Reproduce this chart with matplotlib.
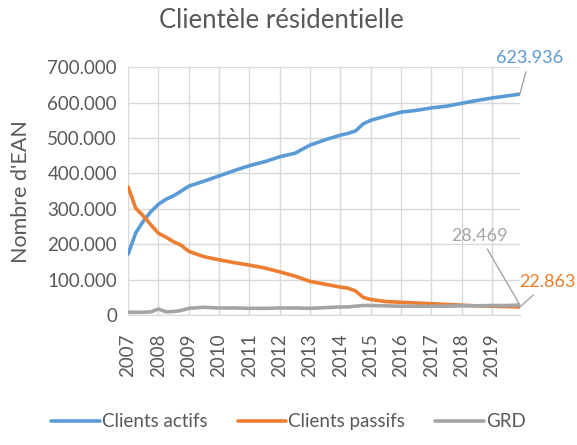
import matplotlib.pyplot as plt
from matplotlib.ticker import FuncFormatter

plt.rcParams['font.family'] = ['Lato', 'DejaVu Sans']

# decimal years of the data points
years = [2007.0, 2007.25, 2007.5, 2007.75, 2008.0, 2008.25, 2008.5, 2008.75,
         2009.0, 2009.5, 2010.0, 2010.5, 2011.0, 2011.5, 2012.0, 2012.5,
         2013.0, 2013.5, 2014.0, 2014.25, 2014.5, 2014.75, 2015.0, 2015.5,
         2016.0, 2016.5, 2017.0, 2017.5, 2018.0, 2018.5, 2019.0, 2019.5, 2019.917]

actifs = [172000, 232000, 265000, 292000, 313000, 327000, 337000, 350000,
          364000, 378000, 393000, 408000, 422000, 433000, 447000, 457000,
          480000, 495000, 508000, 513000, 520000, 540000, 550000, 562000,
          573000, 578000, 585000, 590000, 598000, 606000, 613000, 619000, 623936]

passifs = [362000, 302000, 280000, 255000, 231000, 220000, 207000, 197000,
           180000, 165000, 156000, 148000, 141000, 133000, 122000, 110000,
           95000, 87000, 79000, 76000, 68000, 50000, 44000, 38000,
           36000, 34000, 32000, 30000, 28000, 26000, 25000, 24000, 22863]

grd = [8000, 8000, 8000, 9000, 17000, 9000, 10000, 13000,
       19000, 22000, 20000, 20000, 19000, 19000, 20000, 20000,
       19000, 21000, 23000, 23000, 25000, 27000, 27000, 26000,
       25000, 25000, 25000, 25000, 26000, 26000, 27000, 27000, 28469]

tick_years = list(range(2007, 2020))

blue = '#5B9BD5'
orange = '#ED7D31'
gray = '#A5A5A5'
txt = '#595959'

fig = plt.figure(figsize=(5.77, 4.45), dpi=100)
ax = fig.add_axes([0.222, 0.292, 0.679, 0.557])

ax.plot(years, actifs, color=blue, lw=2.6, label='Clients actifs', solid_capstyle='round')
ax.plot(years, passifs, color=orange, lw=2.6, label='Clients passifs', solid_capstyle='round')
ax.plot(years, grd, color=gray, lw=2.6, label='GRD', solid_capstyle='round')

ax.set_xlim(2007, 2019.917)
ax.set_ylim(0, 700000)
ax.set_yticks(range(0, 700001, 100000))
ax.yaxis.set_major_formatter(FuncFormatter(lambda v, p: '0' if v == 0 else f'{int(v):,}'.replace(',', '.')))
ax.set_xticks(tick_years)
ax.set_xticklabels([str(y) for y in tick_years], rotation=90)

ax.grid(True, color='#D9D9D9', lw=1)
ax.set_axisbelow(True)
for s in ['top', 'right', 'left']:
    ax.spines[s].set_visible(False)
ax.spines['bottom'].set_color('#D9D9D9')
ax.tick_params(length=0, colors=txt, labelsize=13.5)
ax.tick_params(axis='x', pad=13)
ax.tick_params(axis='y', pad=8)

ax.set_ylabel("Nombre d'EAN", color=txt, fontsize=15.5, labelpad=12)
fig.text(0.488, 0.955, 'Clientèle résidentielle', color=txt, fontsize=18.5, ha='center', va='center')

# end labels
lbl = dict(fontsize=13, annotation_clip=False, ha='center', va='bottom')
ax.annotate('623.936', xy=(years[-1], actifs[-1]), xytext=(7, 20), textcoords='offset points',
            color=blue, arrowprops=dict(arrowstyle='-', color=gray, lw=1, shrinkA=2, shrinkB=0), **lbl)
ax.annotate('28.469', xy=(years[-1], grd[-1]), xytext=(-29, 44), textcoords='offset points',
            color=gray, arrowprops=dict(arrowstyle='-', color=gray, lw=1, shrinkA=2, shrinkB=0), **lbl)
ax.annotate('22.863', xy=(years[-1], passifs[-1]), xytext=(20, 12), textcoords='offset points',
            color=orange, arrowprops=dict(arrowstyle='-', color=gray, lw=1, shrinkA=2, shrinkB=0), **lbl)

fig.legend(loc='lower center', bbox_to_anchor=(0.5, -0.005), ncol=3, frameon=False,
           handlelength=2.6, handletextpad=0.1, columnspacing=1.6, fontsize=13.5, labelcolor=txt)

fig.savefig('out.png', dpi=100)
